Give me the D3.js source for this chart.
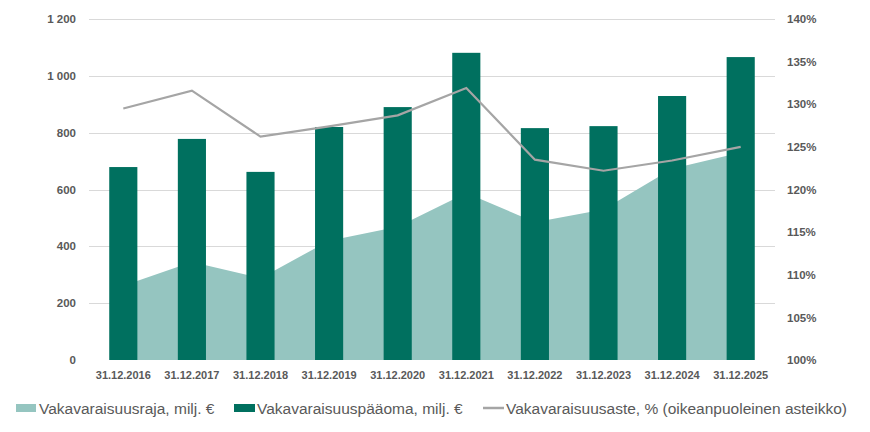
<!DOCTYPE html>
<html>
<head>
<meta charset="utf-8">
<script src="https://cdn.jsdelivr.net/npm/d3@7"></script>
<style>
  body { margin: 0; background: #fff; }
  text { font-family: "Liberation Sans", Arial, sans-serif; }
</style>
</head>
<body>
<div id="chart"></div>
<script>
// Data
var categories = ["31.12.2016", "31.12.2017", "31.12.2018", "31.12.2019", "31.12.2020",
                  "31.12.2021", "31.12.2022", "31.12.2023", "31.12.2024", "31.12.2025"];
var limitValues = [261, 345, 288, 420, 469, 588, 485, 530, 673, 730];        // Vakavaraisuusraja
var capitalValues = [679, 778, 662, 820, 890, 1081, 816, 823, 929, 1066];    // Vakavaraisuuspääoma
var ratioValues = [129.5, 131.6, 126.2, 127.4, 128.7, 131.9, 123.5, 122.2, 123.4, 125.0]; // %
var leftTicks = [0, 200, 400, 600, 800, 1000, 1200];
var rightTicks = [100, 105, 110, 115, 120, 125, 130, 135, 140];
var legendLabels = ["Vakavaraisuusraja, milj. €", "Vakavaraisuuspääoma, milj. €",
                    "Vakavaraisuusaste, % (oikeanpuoleinen asteikko)"];

var drawChart = function() {
    const width = 870, height = 432;
    const left = 89, right = 775, top = 19, bottom = 360;

    var textColor = "#595959";
    var gridColor = "#d9d9d9";
    var areaColor = "#95c5c0";
    var barColor = "#00705f";
    var lineColor = "#a5a5a5";

    var svg = d3.select("#chart").append("svg")
        .attr("width", width)
        .attr("height", height);

    var x = d3.scaleBand().domain(categories).range([left, right]);
    var y = d3.scaleLinear().domain([0, 1200]).range([bottom, top]);
    var y2 = d3.scaleLinear().domain([100, 140]).range([bottom, top]);

    var fmt = d3.formatLocale({ decimal: ",", thousands: "\u00a0", grouping: [3], currency: ["", " €"] }).format(",d");

    // gridlines
    svg.append("g").selectAll("line")
        .data(leftTicks.filter(d => d > 0))
        .join("line")
        .attr("x1", left).attr("x2", right)
        .attr("y1", d => Math.round(y(d)) + 0.5)
        .attr("y2", d => Math.round(y(d)) + 0.5)
        .attr("stroke", gridColor)
        .attr("stroke-width", 1);

    // area (solvency limit)
    var cx = d => x(d) + x.bandwidth() / 2;
    var area = d3.area()
        .x((d, i) => cx(categories[i]))
        .y0(y(0))
        .y1(d => y(d));
    svg.append("path")
        .datum(limitValues)
        .attr("d", area)
        .attr("fill", areaColor);

    // bars (own funds)
    var barW = x.bandwidth() * 0.41;
    svg.append("g").selectAll("rect")
        .data(capitalValues)
        .join("rect")
        .attr("x", (d, i) => cx(categories[i]) - barW / 2)
        .attr("width", barW)
        .attr("y", d => y(d))
        .attr("height", d => y(0) - y(d))
        .attr("fill", barColor);

    // line (solvency ratio, right axis)
    var line = d3.line()
        .x((d, i) => cx(categories[i]))
        .y(d => y2(d));
    svg.append("path")
        .datum(ratioValues)
        .attr("d", line)
        .attr("fill", "none")
        .attr("stroke", lineColor)
        .attr("stroke-width", 2.2);

    // left axis labels
    svg.append("g").selectAll("text")
        .data(leftTicks)
        .join("text")
        .attr("x", 76)
        .attr("y", d => y(d))
        .attr("dy", "0.36em")
        .attr("text-anchor", "end")
        .attr("font-size", 11.5)
        .attr("font-weight", "bold")
        .attr("fill", textColor)
        .text(d => fmt(d));

    // right axis labels
    svg.append("g").selectAll("text")
        .data(rightTicks)
        .join("text")
        .attr("x", 787)
        .attr("y", d => y2(d))
        .attr("dy", "0.36em")
        .attr("font-size", 11.5)
        .attr("font-weight", "bold")
        .attr("fill", textColor)
        .text(d => d + "%");

    // category labels
    svg.append("g").selectAll("text")
        .data(categories)
        .join("text")
        .attr("x", d => cx(d))
        .attr("y", 375)
        .attr("dy", "0.36em")
        .attr("text-anchor", "middle")
        .attr("font-size", 11)
        .attr("font-weight", "bold")
        .attr("fill", textColor)
        .text(d => d);

    // legend
    var legendX = [16, 234, 483];
    var legendY = 408;
    var lg = svg.append("g");
    lg.append("rect").attr("x", legendX[0]).attr("y", legendY - 4).attr("width", 20).attr("height", 8).attr("fill", areaColor);
    lg.append("rect").attr("x", legendX[1]).attr("y", legendY - 4).attr("width", 21).attr("height", 8).attr("fill", barColor);
    lg.append("line").attr("x1", legendX[2]).attr("x2", legendX[2] + 21)
        .attr("y1", legendY).attr("y2", legendY)
        .attr("stroke", lineColor).attr("stroke-width", 2.5);
    lg.selectAll("text")
        .data(legendLabels)
        .join("text")
        .attr("x", (d, i) => legendX[i] + 23)
        .attr("y", legendY)
        .attr("dy", "0.36em")
        .attr("font-size", 15.5)
        .attr("fill", textColor)
        .text(d => d);
}

window.addEventListener("load", drawChart);
</script>
</body>
</html>
